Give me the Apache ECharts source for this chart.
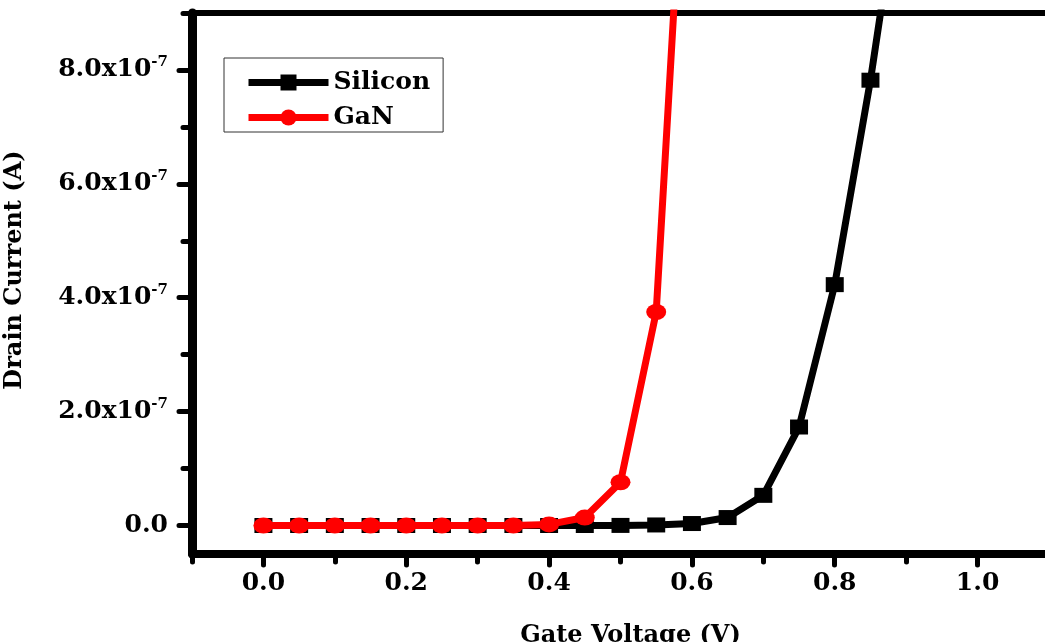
<!DOCTYPE html>
<html>
<head>
<meta charset="utf-8">
<script src="https://cdn.jsdelivr.net/npm/echarts@6/dist/echarts.min.js"></script>
<style>
  html, body { margin: 0; padding: 0; background: #fff; }
  #chart { width: 1045px; height: 642px; }
</style>
</head>
<body>
<div id="chart"></div>
<script>
// Gate voltage (V)
const gateVoltage = [0.0, 0.05, 0.10, 0.15, 0.20, 0.25, 0.30, 0.35, 0.40, 0.45, 0.50, 0.55, 0.60, 0.65, 0.70, 0.75, 0.80, 0.85, 0.90];
// Drain current (A)
const siliconCurrent = [0, 0, 0, 0, 0, 0, 0, 0, 0, 0, 0.002e-7, 0.01e-7, 0.035e-7, 0.14e-7, 0.53e-7, 1.73e-7, 4.23e-7, 7.82e-7, 12.0e-7];
const ganVoltage = [0.0, 0.05, 0.10, 0.15, 0.20, 0.25, 0.30, 0.35, 0.40, 0.45, 0.50, 0.55, 0.60];
const ganCurrent = [0, 0, 0, 0, 0, 0, 0, 0, 0.02e-7, 0.14e-7, 0.76e-7, 3.75e-7, 14.5e-7];

const xMajorTicks = [0.0, 0.2, 0.4, 0.6, 0.8, 1.0];
const xMinorTicks = [-0.1, 0.1, 0.3, 0.5, 0.7, 0.9, 1.1];
const yMajorTicks = [0, 2e-7, 4e-7, 6e-7, 8e-7];
const yMinorTicks = [1e-7, 3e-7, 5e-7, 7e-7, 9e-7];

const FONT = "'DejaVu Serif', 'Liberation Serif', serif";
const xMin = -0.1, xMax = 1.1, yMin = -0.5e-7, yMax = 9e-7;

const chart = echarts.init(document.getElementById('chart'), null, { renderer: 'canvas' });

const pairs = (xs, ys) => xs.map((x, i) => [x, ys[i]]);

const option = {
  animation: false,
  backgroundColor: '#ffffff',
  grid: {
    left: 192, top: 13, width: 857, height: 541,
    containLabel: false,
    outerBoundsMode: 'none',
    show: false
  },
  legend: {
    left: 224, top: 58,
    orient: 'vertical',
    padding: [12, 13, 2, 21],
    itemGap: 10,
    itemWidth: 80,
    itemHeight: 20,
    borderColor: '#333',
    borderWidth: 1,
    backgroundColor: '#fff',
    borderRadius: 0,
    lineStyle: { width: 7 },
    textStyle: { fontFamily: FONT, fontWeight: 'bold', fontSize: 25, color: '#000' },
    data: ['Silicon', 'GaN']
  },
  xAxis: [
    {
      type: 'value', position: 'bottom', min: xMin, max: xMax,
      name: 'Gate Voltage (V)', nameLocation: 'middle', nameGap: 70,
      nameTextStyle: { fontFamily: FONT, fontWeight: 'bold', fontSize: 24, color: '#000', padding: [0, 0, 0, 20] },
      axisLine: { show: true, onZero: false, lineStyle: { color: '#000', width: 8 } },
      axisTick: { show: true, inside: false, length: 11, customValues: xMajorTicks, lineStyle: { color: '#000', width: 5, cap: 'round' } },
      axisLabel: { show: true, margin: 17, customValues: xMajorTicks, fontFamily: FONT, fontWeight: 'bold', fontSize: 25, color: '#000',
        formatter: v => v.toFixed(1) },
      splitLine: { show: false }, minorTick: { show: false }
    },
    {
      type: 'value', position: 'bottom', min: xMin, max: xMax,
      axisLine: { show: false, onZero: false },
      axisTick: { show: true, inside: false, length: 8, customValues: xMinorTicks, lineStyle: { color: '#000', width: 5, cap: 'round' } },
      axisLabel: { show: false }, splitLine: { show: false }
    },
    {
      type: 'value', position: 'top', min: xMin, max: xMax,
      axisLine: { show: true, onZero: false, lineStyle: { color: '#000', width: 6 } },
      axisTick: { show: false }, axisLabel: { show: false }, splitLine: { show: false }
    }
  ],
  yAxis: [
    {
      type: 'value', position: 'left', min: yMin, max: yMax,
      name: 'Drain Current (A)', nameLocation: 'middle', nameGap: 165, nameRotate: 90,
      nameTextStyle: { fontFamily: FONT, fontWeight: 'bold', fontSize: 24, color: '#000', padding: [0, 0, 0, 27] },
      axisLine: { show: true, onZero: false, lineStyle: { color: '#000', width: 9 } },
      axisTick: { show: true, inside: false, length: 13, customValues: yMajorTicks, lineStyle: { color: '#000', width: 5, cap: 'round' } },
      axisLabel: {
        show: true, margin: 24, customValues: yMajorTicks, color: '#000',
        fontFamily: FONT, fontWeight: 'bold', fontSize: 25,
        formatter: v => {
          if (Math.abs(v) < 1e-12) return '{b|0.0}';
          return '{b|' + (v / 1e-7).toFixed(1) + 'x10}{s|-7}';
        },
        rich: {
          b: { fontFamily: FONT, fontWeight: 'bold', fontSize: 25, color: '#000', lineHeight: 30 },
          s: { fontFamily: FONT, fontWeight: 'bold', fontSize: 15, color: '#000', lineHeight: 16, verticalAlign: 'top' }
        }
      },
      splitLine: { show: false }, minorTick: { show: false }
    },
    {
      type: 'value', position: 'left', min: yMin, max: yMax,
      axisLine: { show: false, onZero: false },
      axisTick: { show: true, inside: false, length: 9, customValues: yMinorTicks, lineStyle: { color: '#000', width: 5, cap: 'round' } },
      axisLabel: { show: false }, splitLine: { show: false }
    },
    {
      type: 'value', position: 'right', min: yMin, max: yMax,
      axisLine: { show: true, onZero: false, lineStyle: { color: '#000', width: 6 } },
      axisTick: { show: false }, axisLabel: { show: false }, splitLine: { show: false }
    }
  ],
  series: [
    {
      name: 'Silicon', type: 'line', xAxisIndex: 0, yAxisIndex: 0,
      data: pairs(gateVoltage, siliconCurrent),
      clip: true,
      symbol: 'rect', symbolSize: [18, 15], showAllSymbol: true,
      lineStyle: { color: '#000', width: 7 },
      itemStyle: { color: '#000', borderWidth: 0 },
      z: 3
    },
    {
      name: 'GaN', type: 'line', xAxisIndex: 0, yAxisIndex: 0,
      data: pairs(ganVoltage, ganCurrent),
      clip: true,
      symbol: 'circle', symbolSize: [20, 16], showAllSymbol: true,
      lineStyle: { color: '#ff0000', width: 7 },
      itemStyle: { color: '#ff0000', borderWidth: 0 },
      z: 4
    }
  ]
};

chart.setOption(option);
</script>
</body>
</html>
